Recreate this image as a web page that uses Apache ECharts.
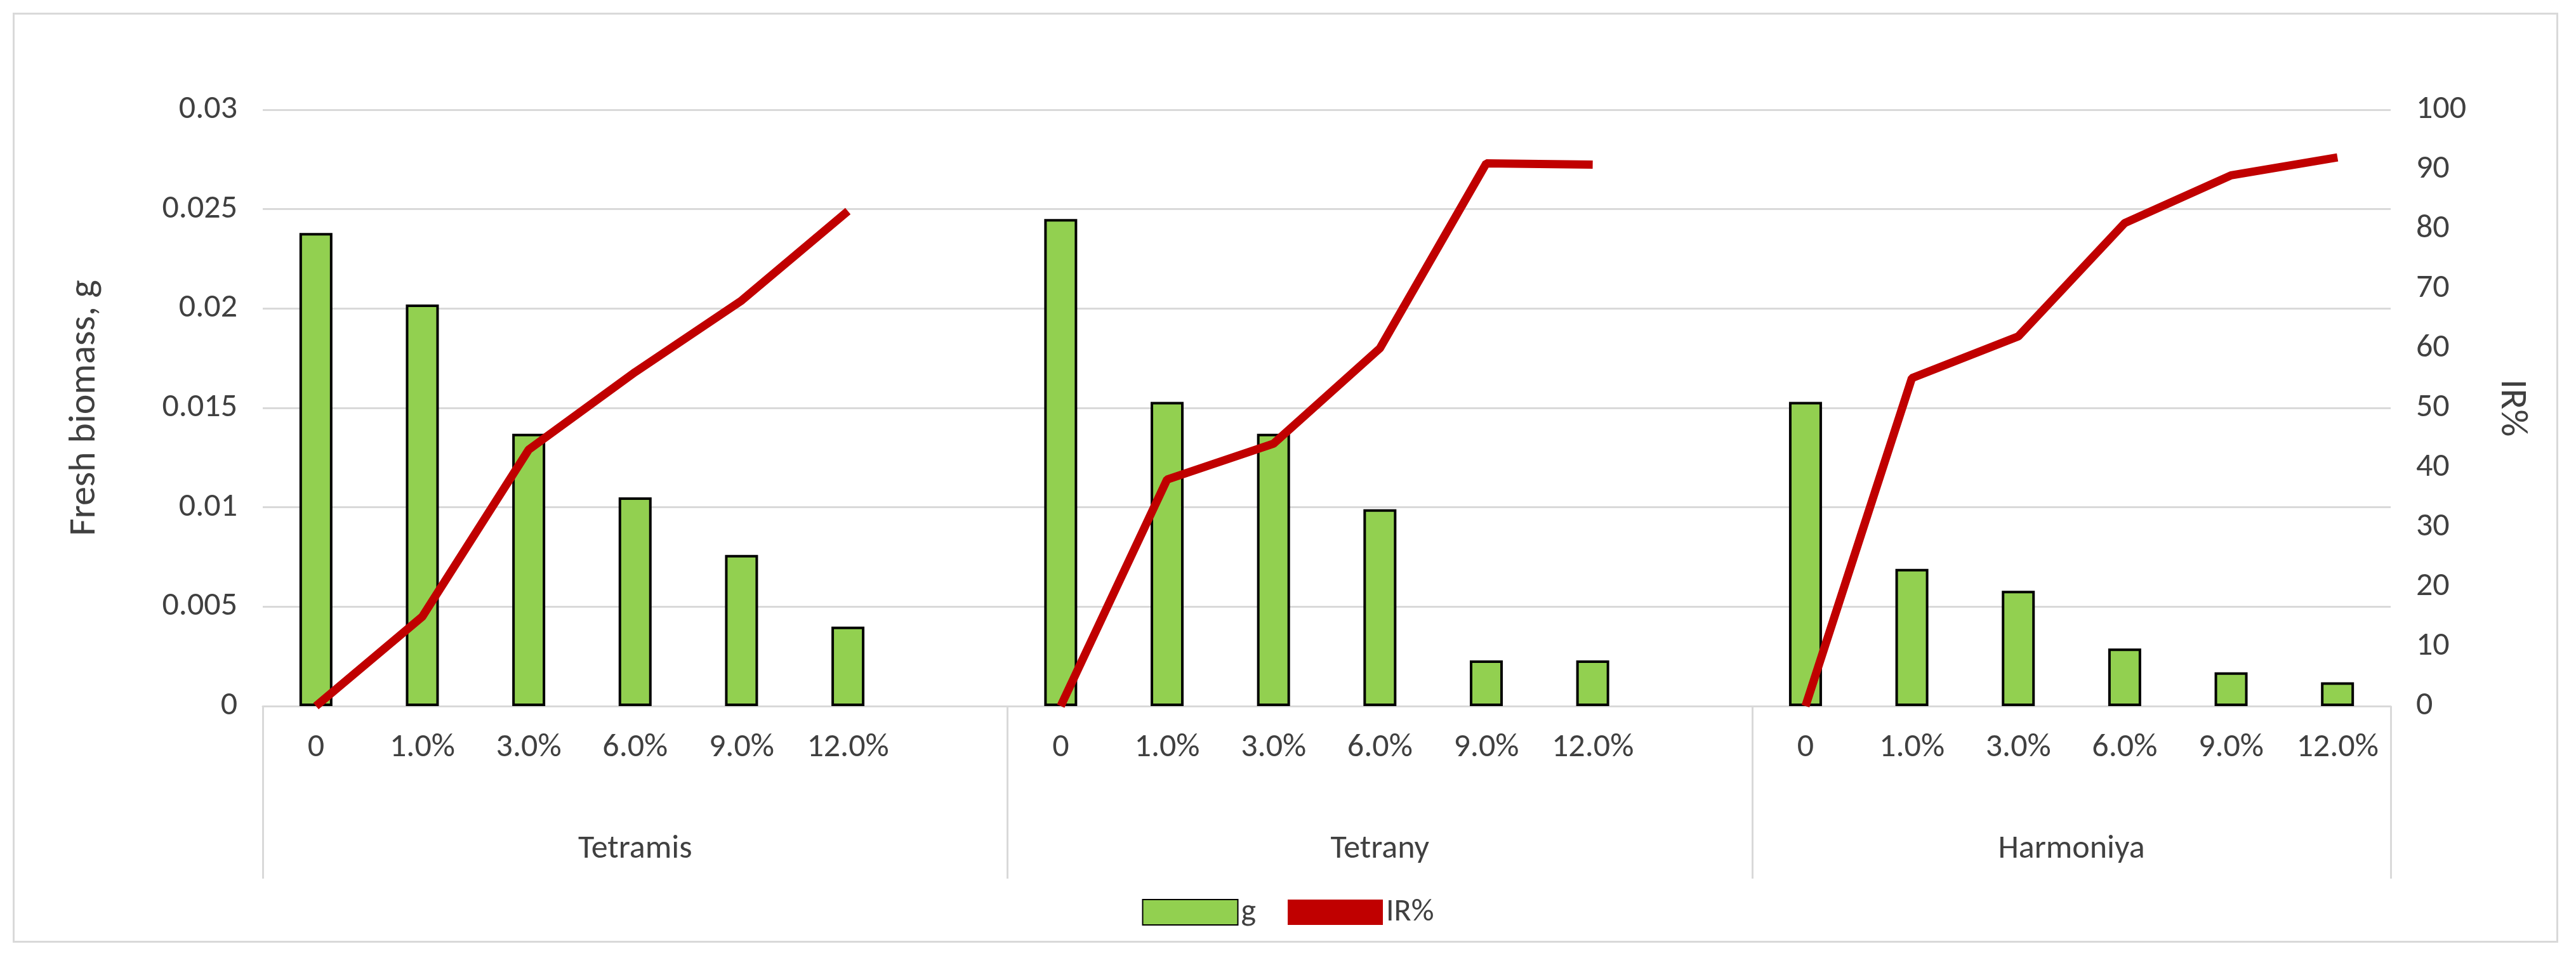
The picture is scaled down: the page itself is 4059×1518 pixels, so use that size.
<!DOCTYPE html>
<html>
<head><meta charset="utf-8"></head>
<body style="margin:0;width:4059px;height:1518px;background:#fff">
<div style="position:absolute;left:20px;top:20px;width:4005px;height:1460px;border:3px solid #d9d9d9"></div>
<div id="container" style="position:absolute;left:0;top:0;width:4059px;height:1518px"></div>
<script src="https://cdn.jsdelivr.net/npm/echarts@6/dist/echarts.min.js"></script>
<script>
var groups = ['Tetramis', 'Tetrany', 'Harmoniya'];
var doses = ['0', '1.0%', '3.0%', '6.0%', '9.0%', '12.0%'];
var biomass = [
  [0.0238, 0.0202, 0.0137, 0.0105, 0.0076, 0.0040],
  [0.0245, 0.0153, 0.0137, 0.0099, 0.0023, 0.0023],
  [0.0153, 0.0069, 0.0058, 0.0029, 0.0017, 0.0012]
];
var ir = [
  [0, 15, 43, 56, 68, 83],
  [0, 38, 44, 60, 91, 90.8],
  [0, 55, 62, 81, 89, 92]
];

// each group takes 7 slots (6 doses + a blank), the last group has no blank
var cats = [], barData = [], lineData = [];
groups.forEach(function (g, gi) {
  doses.forEach(function (d, di) {
    cats.push(d);
    barData.push(biomass[gi][di]);
    lineData.push(ir[gi][di]);
  });
  if (gi < groups.length - 1) {
    cats.push('');
    barData.push(null);
    lineData.push(null);
  }
});

// group axis in half-slot steps
var halfCats = [], groupLabelAt = {}, groupTickAt = { 0: 1, 14: 1, 28: 1, 40: 1 };
for (var i = 0; i <= cats.length * 2; i++) halfCats.push('');
halfCats[7] = groups[0]; halfCats[21] = groups[1]; halfCats[34] = groups[2];
groupLabelAt = { 7: 1, 21: 1, 34: 1 };

var font = 'Calibri, Carlito, "Open Sans", sans-serif';
var chart = echarts.init(document.getElementById('container'));
chart.setOption({
  textStyle: { fontFamily: font },
  grid: { left: 414, right: 292, top: 173, bottom: 405 },
  legend: {
    bottom: 50, left: 'center', itemWidth: 150, itemHeight: 40, itemGap: 50,
    textStyle: { fontSize: 50, color: '#404040', fontFamily: font },
    data: [{ name: 'g', icon: 'rect' }, { name: 'IR%', icon: 'rect' }]
  },
  xAxis: [{
    type: 'category', data: cats,
    axisLine: { lineStyle: { color: '#d9d9d9', width: 3 } },
    axisTick: { show: false },
    axisLabel: { interval: 0, fontSize: 52, color: '#404040', margin: 40 }
  }, {
    type: 'category', data: halfCats, position: 'bottom', boundaryGap: false,
    axisLine: { show: false },
    axisTick: { show: true, length: 272, interval: function (idx) { return !!groupTickAt[idx]; },
      lineStyle: { color: '#d9d9d9', width: 3 } },
    axisLabel: { fontSize: 52, color: '#404040', margin: 200,
      interval: function (idx) { return !!groupLabelAt[idx]; } }
  }],
  yAxis: [{
    type: 'value', min: 0, max: 0.03, interval: 0.005,
    name: 'Fresh biomass, g', nameLocation: 'middle', nameGap: 250,
    nameTextStyle: { fontSize: 60, color: '#404040' },
    axisLabel: { fontSize: 52, color: '#404040', margin: 40 },
    splitLine: { lineStyle: { color: '#d9d9d9', width: 3 } }
  }, {
    type: 'value', min: 0, max: 100, interval: 10,
    name: 'IR%', nameLocation: 'middle', nameGap: 160, nameRotate: -90,
    nameTextStyle: { fontSize: 60, color: '#404040' },
    axisLabel: { fontSize: 52, color: '#404040', margin: 40 },
    splitLine: { show: false }
  }],
  series: [{
    name: 'g', type: 'bar', data: barData, barWidth: 52,
    itemStyle: { color: '#92d050', borderColor: '#000', borderWidth: 4 }
  }, {
    name: 'IR%', type: 'line', yAxisIndex: 1, data: lineData,
    symbol: 'none', connectNulls: false,
    lineStyle: { color: '#c00000', width: 13 }, itemStyle: { color: '#c00000' }
  }]
});
</script>
</body>
</html>
